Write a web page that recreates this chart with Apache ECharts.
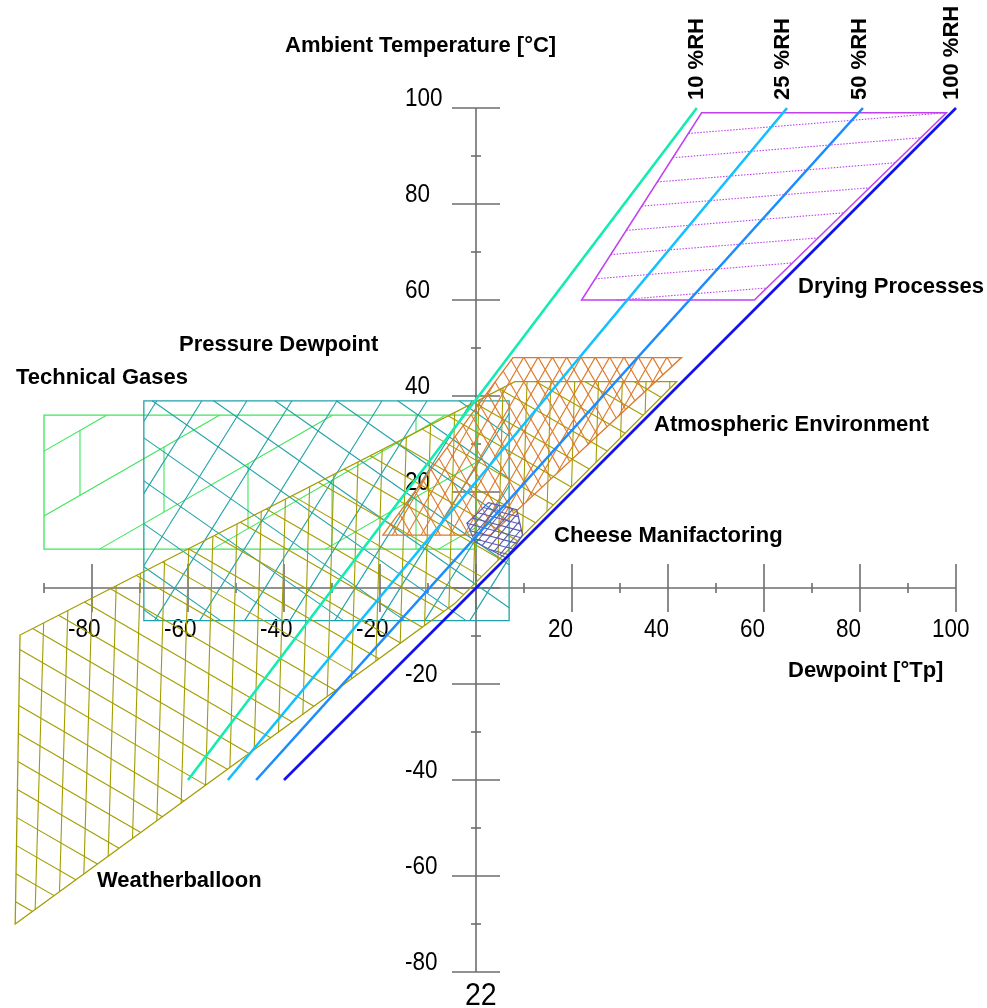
<!DOCTYPE html>
<html><head><meta charset="utf-8">
<script src="https://cdn.jsdelivr.net/npm/echarts/dist/echarts.min.js"></script>
<style>html,body{margin:0;padding:0;background:#fff}#c{width:987px;height:1008px}</style>
</head><body><div id="c"></div>
<script>
// ---------------- data ----------------
const xMajorTicks = [-80, -60, -40, -20, 0, 20, 40, 60, 80, 100];
const xMinorTicks = [-90, -70, -50, -30, -10, 10, 30, 50, 70, 90];
const yMajorTicks = [-80, -60, -40, -20, 0, 20, 40, 60, 80, 100];
const yMinorTicks = [-70, -50, -30, -10, 10, 30, 50, 70, 90];
const xTickLabels = ['-80', '-60', '-40', '-20', '', '20', '40', '60', '80', '100'];
const yTickLabels = ['-80', '-60', '-40', '-20', '', '20', '40', '60', '80', '100'];
const xAxisTitle = 'Dewpoint [°Tp]';
const yAxisTitle = 'Ambient Temperature [°C]';

const rhNames = ['10 %RH', '25 %RH', '50 %RH', '100 %RH'];
const rh10 = [[-60, -40], [46, 100]];
const rh25 = [[-51.7, -40], [64.8, 100]];
const rh50 = [[-45.8, -40], [80.6, 100]];
const rh100 = [[-40, -40], [100, 100]];

const regionNames = ['Technical Gases', 'Pressure Dewpoint', 'Weatherballoon',
  'Atmospheric Environment', 'Cheese Manifactoring', 'Drying Processes'];
const technicalGases = [[-90, 8.1], [0, 8.1], [0, 36], [-90, 36]];
const pressureDewpoint = [[-69.2, -6.8], [6.9, -6.8], [6.9, 39], [-69.2, 39]];
const weatherballoon = [[-95, -9.8], [-96, -70], [-4.5, -3.3], [41.8, 43], [8.1, 43]];
const atmospheric = [[-19.4, 11], [3, 11], [42.8, 48], [7.7, 48]];
const cheese = [[-1.9, 13.5], [2.6, 17.8], [8.5, 16.3], [9.7, 11.0], [6.4, 6.2], [-0.2, 9.6]];
const drying = [[22, 60], [58, 60], [98, 99], [47, 99]];
const strayLabel = '22';

// ---------------- styles ----------------
const rhColors = ['#12ecb0', '#12c0ff', '#1a8cff', '#1212ee'];
const axisColor = '#6e6e6e';
const regionStyles = [
  { color: '#3ce65a', edge: 1.3, hatch: [
    { angle: -29.9, spacing: 56.3, anchor: [-90.2, 28.4], brick: { x0: -82.5, period: 168 } } ] },
  { color: '#1fa3a8', edge: 1.3, hatch: [
    { angle: -58, spacing: 38.2, anchor: [-66.5, 39.0] },
    { angle: 35, spacing: 35.2, anchor: [-69.1, 31.2] } ] },
  { color: '#a39d00', edge: 1.3, hatch: [
    { angle: 91.7, spacing: 23.8, anchor: [-90.1, -8.3] },
    { angle: 30, spacing: 24.5, anchor: [-95.4, -18.5] } ] },
  { color: '#dd7a2a', edge: 1.3, hatch: [
    { angle: 60, spacing: 12.4, anchor: [18.9, 48.1] },
    { angle: -60, spacing: 12.4, anchor: [18.9, 48.1] } ] },
  { color: '#5a5ab4', edge: 1.2, hatch: [
    { angle: 15, spacing: 6.5, anchor: [-1.9, 13.5] },
    { angle: -50, spacing: 6.5, anchor: [-1.9, 13.5] } ] },
  { color: '#c040f0', edge: 1.5, hatch: [
    { angle: -4.6, spacing: 22.9, anchor: [44.3, 94.7], dash: [1.5, 1.5] } ] }
];
const regionPolys = [technicalGases, pressureDewpoint, weatherballoon, atmospheric, cheese, drying];
const labelPos = [[16, 378], [179, 345], [97, 881], [654, 425], [554, 536], [798, 287]];
const rhLabelPos = [[697, 100], [783, 100], [860, 100], [952, 100]];

const BOLD = 'bold 22px "Liberation Sans", Arial, sans-serif';
const REG = '25px "Liberation Sans", Arial, sans-serif';
const REG_SCALE = 0.9;

// ---------------- geometry helpers ----------------
function orientOf(pts) {
  let a = 0;
  for (let i = 0; i < pts.length; i++) {
    const p = pts[i], q = pts[(i + 1) % pts.length];
    a += p[0] * q[1] - q[0] * p[1];
  }
  return a >= 0 ? 1 : -1;
}
function clipSeg(p0, p1, poly, orient) {
  let t0 = 0, t1 = 1;
  const dx = p1[0] - p0[0], dy = p1[1] - p0[1];
  for (let i = 0; i < poly.length; i++) {
    const a = poly[i], b = poly[(i + 1) % poly.length];
    const ex = b[0] - a[0], ey = b[1] - a[1];
    const nx = -ey * orient, ny = ex * orient;
    const num = nx * (p0[0] - a[0]) + ny * (p0[1] - a[1]);
    const den = nx * dx + ny * dy;
    if (Math.abs(den) < 1e-12) { if (num < 0) return null; continue; }
    const t = -num / den;
    if (den > 0) { if (t > t0) t0 = t; } else { if (t < t1) t1 = t; }
    if (t0 > t1) return null;
  }
  return [[p0[0] + t0 * dx, p0[1] + t0 * dy], [p0[0] + t1 * dx, p0[1] + t1 * dy]];
}
function seg2line(seg, style) {
  return { type: 'line', shape: { x1: seg[0][0], y1: seg[0][1], x2: seg[1][0], y2: seg[1][1] }, style: style };
}

function makeRegionRender(poly, st) {
  return function (params, api) {
    const pts = poly.map(p => api.coord(p));
    const orient = orientOf(pts);
    const children = [];
    st.hatch.forEach(h => {
      const anc = api.coord(h.anchor);
      const a = h.angle * Math.PI / 180;
      const d = [Math.cos(a), Math.sin(a)], n = [-d[1], d[0]];
      const cs = pts.map(p => p[0] * n[0] + p[1] * n[1]);
      const mn = Math.min.apply(null, cs), mx = Math.max.apply(null, cs);
      const c0 = anc[0] * n[0] + anc[1] * n[1];
      const k0 = Math.ceil((mn - c0) / h.spacing), k1 = Math.floor((mx - c0) / h.spacing);
      const style = { stroke: st.color, lineWidth: 1.1, lineDash: h.dash || null };
      for (let k = k0; k <= k1; k++) {
        const c = c0 + k * h.spacing, bx = n[0] * c, by = n[1] * c;
        const seg = clipSeg([bx - d[0] * 4000, by - d[1] * 4000], [bx + d[0] * 4000, by + d[1] * 4000], pts, orient);
        if (seg) children.push(seg2line(seg, style));
      }
      if (h.brick) {
        const bx0 = api.coord([h.brick.x0, 0])[0], P = h.brick.period;
        const xs = pts.map(p => p[0]);
        const xmin = Math.min.apply(null, xs), xmax = Math.max.apply(null, xs);
        for (let k = k0 - 1; k <= k1; k++) {
          const ca = c0 + k * h.spacing, cb = ca + h.spacing;
          const off = (((k % 2) + 2) % 2) * P / 2;
          const m0 = Math.floor((xmin - bx0 - off) / P), m1 = Math.ceil((xmax - bx0 - off) / P);
          for (let m = m0; m <= m1; m++) {
            const xv = bx0 + off + m * P;
            const ya = (ca - n[0] * xv) / n[1], yb = (cb - n[0] * xv) / n[1];
            const seg = clipSeg([xv, ya], [xv, yb], pts, orient);
            if (seg && Math.abs(seg[1][1] - seg[0][1]) > 0.5) children.push(seg2line(seg, style));
          }
        }
      }
    });
    children.push({ type: 'polygon', shape: { points: pts }, style: { fill: 'none', stroke: st.color, lineWidth: st.edge } });
    return { type: 'group', children: children };
  };
}

function tickText(t, x, y) {
  return { type: 'text', x: x, y: y, scaleX: REG_SCALE, scaleY: 1,
    style: { text: t, font: REG, fill: '#000', align: 'left', textAlign: 'left', verticalAlign: 'middle', textVerticalAlign: 'middle' } };
}

function axisRender(params, api) {
  const P = (x, y) => api.coord([x, y]);
  const ch = [];
  const ls = { stroke: axisColor, lineWidth: 1.6 };
  let a = P(xMinorTicks[0], 0), b = P(xMajorTicks[xMajorTicks.length - 1], 0);
  ch.push({ type: 'line', shape: { x1: a[0], y1: a[1], x2: b[0], y2: b[1] }, style: ls });
  a = P(0, yMajorTicks[0]); b = P(0, yMajorTicks[yMajorTicks.length - 1]);
  ch.push({ type: 'line', shape: { x1: a[0], y1: a[1], x2: b[0], y2: b[1] }, style: ls });
  xMajorTicks.forEach((v, i) => {
    const p = P(v, 0);
    ch.push({ type: 'line', shape: { x1: p[0], y1: p[1] - 24, x2: p[0], y2: p[1] + 24 }, style: ls });
    if (xTickLabels[i]) ch.push(tickText(xTickLabels[i], p[0] - 24, p[1] + 42));
  });
  xMinorTicks.forEach(v => {
    const p = P(v, 0);
    ch.push({ type: 'line', shape: { x1: p[0], y1: p[1] - 5, x2: p[0], y2: p[1] + 5 }, style: ls });
  });
  yMajorTicks.forEach((v, i) => {
    const p = P(0, v);
    ch.push({ type: 'line', shape: { x1: p[0] - 24, y1: p[1], x2: p[0] + 24, y2: p[1] }, style: ls });
    if (yTickLabels[i]) ch.push(tickText(yTickLabels[i], p[0] - 71, p[1] - 9));
  });
  yMinorTicks.forEach(v => {
    const p = P(0, v);
    ch.push({ type: 'line', shape: { x1: p[0] - 5, y1: p[1], x2: p[0] + 5, y2: p[1] }, style: ls });
  });
  return { type: 'group', children: ch };
}

// ---------------- chart ----------------
const chart = echarts.init(document.getElementById('c'), null, { renderer: 'canvas' });
const series = [];
series.push({ type: 'custom', name: 'axes', silent: true, z: 1, clip: false, data: [[0, 0]], renderItem: axisRender });
regionPolys.forEach((poly, i) => {
  series.push({ type: 'custom', name: regionNames[i], silent: true, z: 2, clip: false, data: [[0, 0]],
    renderItem: makeRegionRender(poly, regionStyles[i]) });
});
[rh10, rh25, rh50, rh100].forEach((d, i) => {
  series.push({ type: 'line', name: rhNames[i], data: d, showSymbol: false, silent: true, z: 3,
    lineStyle: { color: rhColors[i], width: 2.6 }, itemStyle: { color: rhColors[i] } });
});

const txt = (t, x, y, font, extra) => Object.assign({ type: 'text', x: x, y: y, z: 10, silent: true,
  style: { text: t, font: font, fill: '#000', align: 'left', textAlign: 'left', verticalAlign: 'middle', textVerticalAlign: 'middle' } }, extra || {});
const graphics = [];
graphics.push(txt(yAxisTitle, 285, 46, BOLD));
graphics.push(txt(xAxisTitle, 788, 671, BOLD));
regionNames.forEach((nm, i) => graphics.push(txt(nm, labelPos[i][0], labelPos[i][1], BOLD)));
rhNames.forEach((nm, i) => graphics.push(txt(nm, rhLabelPos[i][0], rhLabelPos[i][1], BOLD, { rotation: Math.PI / 2 })));
graphics.push(txt(strayLabel, 465, 996, '31px "Liberation Sans", Arial, sans-serif', { scaleX: 0.92 }));

chart.setOption({
  animation: false,
  backgroundColor: '#ffffff',
  grid: { left: 15.2, right: 31, top: 108, bottom: 36, containLabel: false },
  xAxis: { type: 'value', min: -96, max: 100, show: false },
  yAxis: { type: 'value', min: -80, max: 100, show: false },
  series: series,
  graphic: graphics
});
</script></body></html>
